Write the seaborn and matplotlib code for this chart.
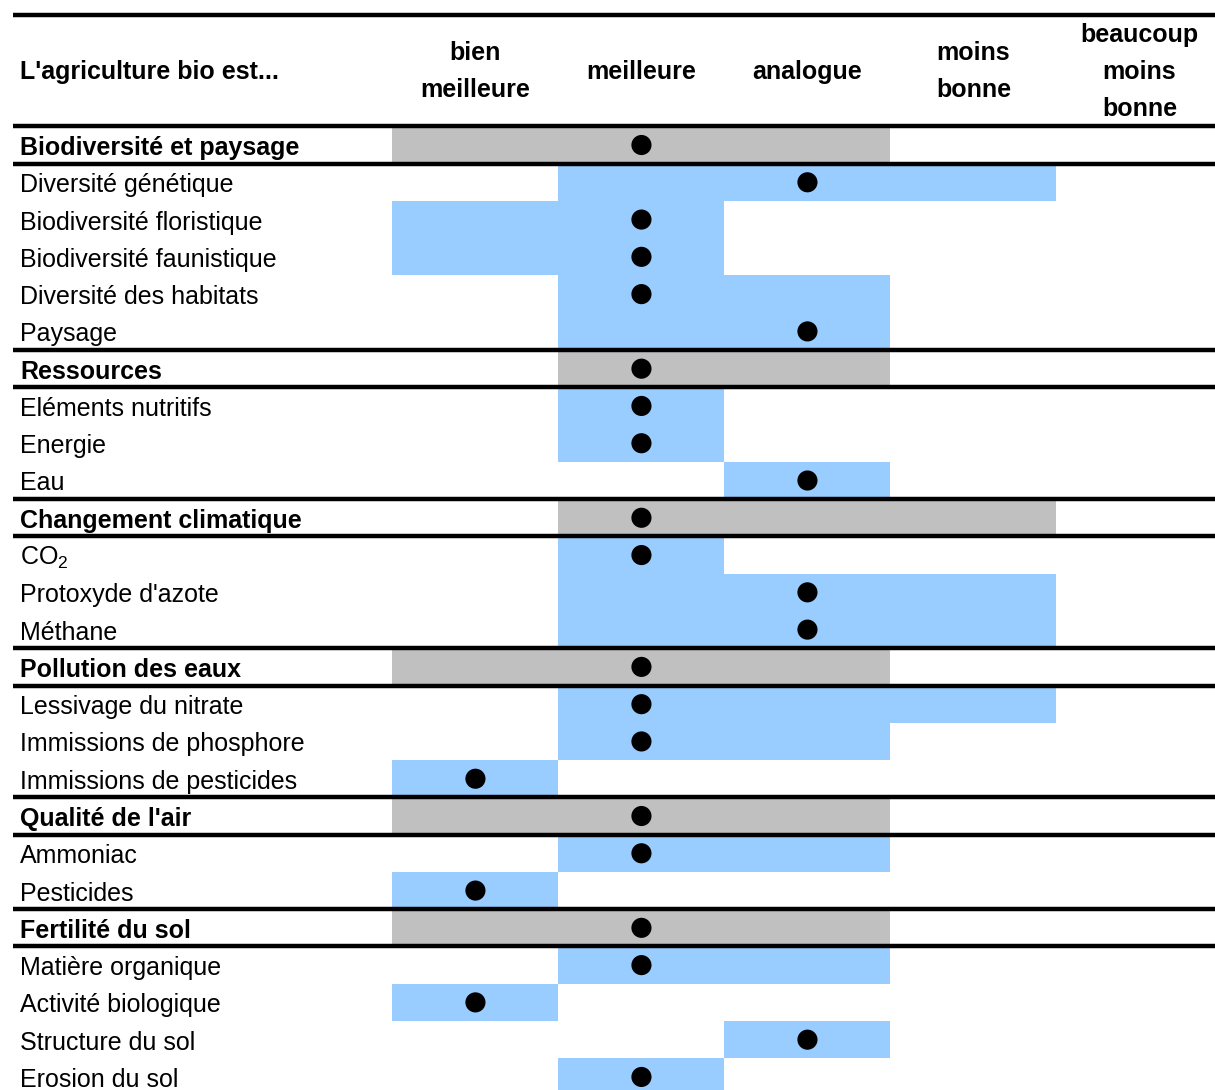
import pandas as pd
import seaborn as sns
import matplotlib.pyplot as plt

# ==========================================
# DATA
# ==========================================

columns = [
    "bien\nmeilleure",
    "meilleure",
    "analogue",
    "moins\nbonne",
    "beaucoup\nmoins\nbonne"
]

labels = [
    "Biodiversité et paysage",
    "Diversité génétique",
    "Biodiversité floristique",
    "Biodiversité faunistique",
    "Diversité des habitats",
    "Paysage",
    "Ressources",
    "Eléments nutritifs",
    "Energie",
    "Eau",
    "Changement climatique",
    "$\\mathregular{CO_2}$",
    "Protoxyde d'azote",
    "Méthane",
    "Pollution des eaux",
    "Lessivage du nitrate",
    "Immissions de phosphore",
    "Immissions de pesticides",
    "Qualité de l'air",
    "Ammoniac",
    "Pesticides",
    "Fertilité du sol",
    "Matière organique",
    "Activité biologique",
    "Structure du sol",
    "Erosion du sol"
]

is_header = [
    True, False, False, False, False, False,
    True, False, False, False,
    True, False, False, False,
    True, False, False, False,
    True, False, False,
    True, False, False, False, False
]

# 0 = bien meilleure ... 4 = beaucoup moins bonne
range_lo = [0, 1, 0, 0, 1, 1, 1, 1, 1, 2, 1, 1, 1, 1, 0, 1, 1, 0, 0, 1, 0, 0, 1, 0, 2, 1]
range_hi = [2, 3, 1, 1, 2, 2, 2, 1, 1, 2, 3, 1, 3, 3, 2, 3, 2, 0, 2, 2, 0, 2, 2, 0, 2, 1]
dot_pos = [1, 2, 1, 1, 1, 2, 1, 1, 1, 2, 1, 1, 2, 2, 1, 1, 1, 0, 1, 1, 0, 1, 1, 0, 2, 1]

df = pd.DataFrame({
    "label": labels,
    "header": is_header,
    "lo": range_lo,
    "hi": range_hi,
    "dot": dot_pos
})
df["row"] = range(len(df))

# ==========================================
# STYLE
# ==========================================

sns.set_theme(style="white")
plt.rcParams["font.family"] = ["Liberation Sans", "DejaVu Sans"]
plt.rcParams["mathtext.fontset"] = "custom"
plt.rcParams["mathtext.rm"] = "Liberation Sans"
plt.rcParams["text.color"] = "black"

BLUE = "#99CCFF"
GRAY = "#C0C0C0"

fig = plt.figure(figsize=(12.15, 10.9), dpi=100)
ax = fig.add_axes([0, 0, 1, 1])
ax.set_xlim(-2.864, 4.455)
ax.set_ylim(25.35, -3.89)
ax.axis("off")

# ==========================================
# RANGE BARS
# ==========================================

ax.barh(
    df["row"],
    df["hi"] - df["lo"] + 1,
    left=df["lo"] - 0.5,
    height=1.0,
    color=[GRAY if h else BLUE for h in df["header"]],
    linewidth=0,
    zorder=1
)

# ==========================================
# DOTS
# ==========================================

sns.scatterplot(
    data=df,
    x="dot",
    y="row",
    color="black",
    s=210,
    edgecolor="none",
    zorder=3,
    ax=ax
)
ax.set_xlabel("")
ax.set_ylabel("")

# ==========================================
# SEPARATOR LINES
# ==========================================

line_rows = [-3.487]
for i, h in enumerate(is_header):
    if h:
        line_rows += [i - 0.5, i + 0.5]

ax.hlines(line_rows, -2.786, 4.6, color="black", linewidth=3.2, zorder=4)

# ==========================================
# TEXT
# ==========================================

label_x = -2.744

ax.text(label_x, -1.96, "L'agriculture bio est...", fontsize=18,
        fontweight="bold", va="center", ha="left", color="black")

for i, col in enumerate(columns):
    ax.text(i, -1.96, col, fontsize=18, fontweight="bold", color="black",
            ha="center", va="center", linespacing=1.68)

for _, r in df.iterrows():
    ax.text(label_x, r["row"] + 0.08, r["label"], fontsize=18,
            fontweight="bold" if r["header"] else "normal", color="black",
            va="center", ha="left", zorder=5)

plt.savefig("out.png", dpi=100)
